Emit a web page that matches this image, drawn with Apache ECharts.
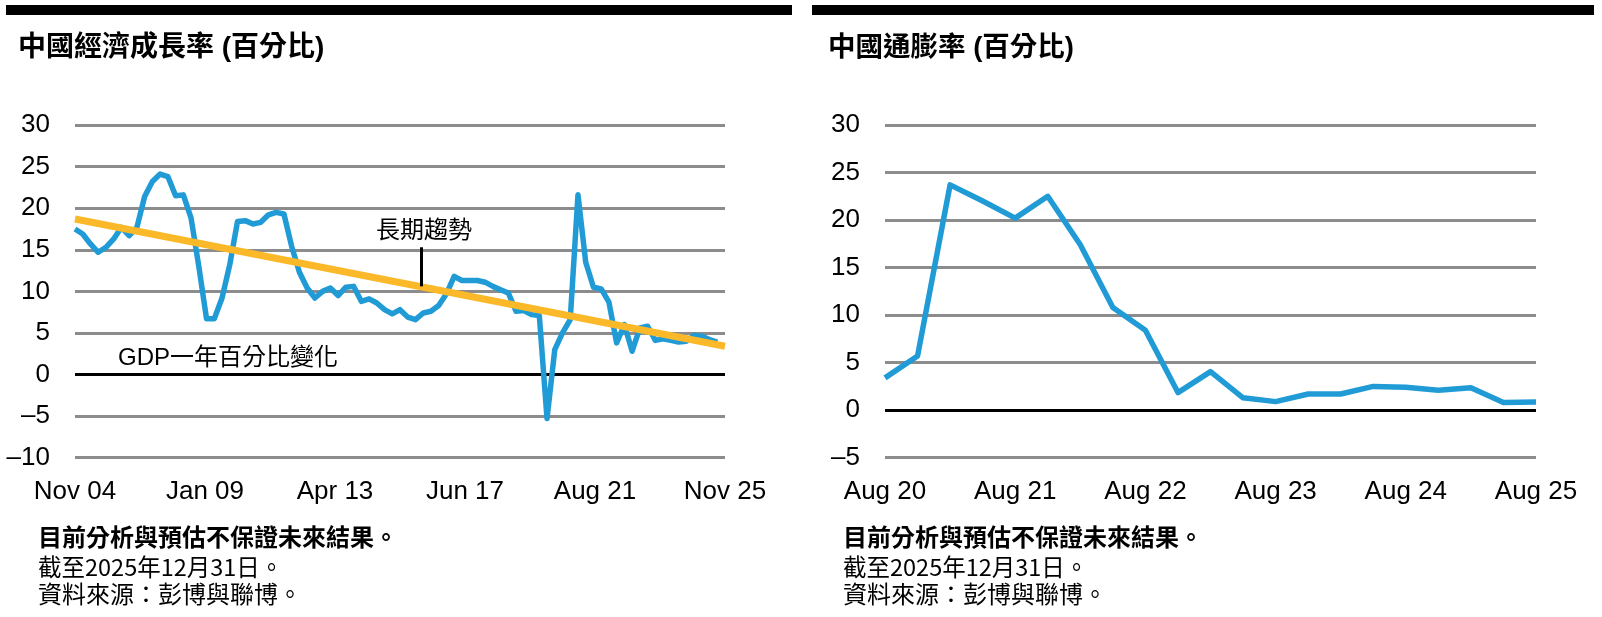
<!DOCTYPE html>
<html><head><meta charset="utf-8">
<script src="https://cdn.jsdelivr.net/npm/echarts@6/dist/echarts.min.js"></script>
<style>html,body{margin:0;padding:0;background:#fff}#c{width:1602px;height:617px}</style>
</head><body><div id="c"></div>
<script>
// ---- Left chart: China nominal GDP growth (quarterly, Q4 2004 .. Q3 2025) ----
const gdpTickLabels = ['Nov 04', 'Jan 09', 'Apr 13', 'Jun 17', 'Aug 21', 'Nov 25'];
const gdpGrowth = [17.5,16.9,15.7,14.7,15.3,16.3,17.7,16.7,17.7,21.4,
  23.2,24.1,23.8,21.5,21.6,18.8,13.0,6.7,6.7,9.2,
  13.2,18.4,18.5,18.1,18.3,19.2,19.5,19.3,15.4,12.3,
  10.4,9.2,10.0,10.4,9.5,10.5,10.6,8.8,9.1,8.6,
  7.8,7.3,7.8,6.9,6.6,7.4,7.6,8.3,9.7,11.8,
  11.3,11.3,11.3,11.1,10.6,10.2,9.8,7.6,7.7,7.2,
  7.1,-5.3,3.0,5.0,6.6,21.6,13.5,10.5,10.3,8.7,
  3.8,6.0,2.8,5.6,5.8,4.1,4.3,4.1,3.9,4.0,
  4.7,4.6,4.2,3.9];
const gdpTrendStart = 18.7;   // value at axis start
const gdpTrendEnd = 3.4;      // value at axis end
const gdpSpan = 84;           // quarters from Nov 04 to Nov 25
const gdpYTicks = [-10, 30, 5];

// ---- Right chart: China inflation (quarterly, Aug 20 .. Aug 25) ----
const cpiTickLabels = ['Aug 20', 'Aug 21', 'Aug 22', 'Aug 23', 'Aug 24', 'Aug 25'];
const cpiInflation = [3.4,5.7,23.7,22.0,20.2,22.5,17.4,10.8,8.4,1.85,
  4.05,1.3,0.9,1.7,1.7,2.5,2.4,2.1,2.35,0.8,0.85];
const cpiYTicks = [-5, 30, 5];

const BLUE = '#219bd6', ORANGE = '#fbb829', GRID = '#8c8c8c';
const latin = '"Liberation Sans", Arial, sans-serif';
const cjk = '"Liberation Sans", "Noto Sans CJK TC", sans-serif';
const cjkOnly = '"Noto Sans CJK TC", sans-serif';

function yLabel(v) { return v < 0 ? '\u2013' + Math.abs(v) : String(v); }
function splitColors(min, max, step) {
  const c = [];
  for (let v = min; v <= max; v += step) c.push(v === 0 ? '#000' : GRID);
  return c;
}

const chart = echarts.init(document.getElementById('c'), null, {renderer: 'canvas'});
const gdpStep = gdpSpan / (gdpTickLabels.length - 1);
const cpiStep = (cpiInflation.length - 1) / (cpiTickLabels.length - 1);

const xCommon = {
  type: 'value', axisLine: {show: false}, axisTick: {show: false}, splitLine: {show: false}
};
const yCommon = {
  type: 'value', axisLine: {show: false}, axisTick: {show: false},
  axisLabel: {formatter: yLabel, fontFamily: latin, fontSize: 26, color: '#000', margin: 25}
};
const xLab = {fontFamily: latin, fontSize: 26, color: '#000', margin: 21};

chart.setOption({
  animation: false,
  grid: [
    {left: 75, width: 650, top: 125, height: 332.7},
    {left: 885, width: 651, top: 125, height: 332.7}
  ],
  xAxis: [
    Object.assign({}, xCommon, {gridIndex: 0, min: 0, max: gdpSpan, interval: gdpStep,
      axisLabel: Object.assign({formatter: v => gdpTickLabels[Math.round(v / gdpStep)]}, xLab)}),
    Object.assign({}, xCommon, {gridIndex: 1, min: 0, max: cpiInflation.length - 1, interval: cpiStep,
      axisLabel: Object.assign({formatter: v => cpiTickLabels[Math.round(v / cpiStep)]}, xLab)})
  ],
  yAxis: [
    Object.assign({}, yCommon, {gridIndex: 0, min: gdpYTicks[0], max: gdpYTicks[1], interval: gdpYTicks[2],
      splitLine: {lineStyle: {color: splitColors(gdpYTicks[0], gdpYTicks[1], gdpYTicks[2]), width: 3}}}),
    Object.assign({}, yCommon, {gridIndex: 1, min: cpiYTicks[0], max: cpiYTicks[1], interval: cpiYTicks[2],
      splitLine: {lineStyle: {color: splitColors(cpiYTicks[0], cpiYTicks[1], cpiYTicks[2]), width: 3}}})
  ],
  series: [
    {type: 'line', xAxisIndex: 0, yAxisIndex: 0, z: 3, symbol: 'none',
      lineStyle: {color: BLUE, width: 5.5, join: 'round'},
      data: gdpGrowth.map((v, i) => [i, v])},
    {type: 'line', xAxisIndex: 0, yAxisIndex: 0, z: 4, symbol: 'none',
      lineStyle: {color: ORANGE, width: 7},
      data: [[0, gdpTrendStart], [gdpSpan, gdpTrendEnd]],
      markLine: {silent: true, symbol: 'none', label: {show: false},
        lineStyle: {color: '#000', width: 3, type: 'solid'},
        data: [[{coord: [44.8, 10.6]}, {coord: [44.8, 15.3]}]]}},
    {type: 'line', xAxisIndex: 1, yAxisIndex: 1, z: 3, symbol: 'none',
      lineStyle: {color: BLUE, width: 5.5, join: 'round'},
      data: cpiInflation.map((v, i) => [i, v])}
  ],
  graphic: [
    {type: 'rect', shape: {x: 6, y: 5, width: 786, height: 10}, style: {fill: '#000'}},
    {type: 'rect', shape: {x: 812, y: 5, width: 782, height: 10}, style: {fill: '#000'}},
    {type: 'text', x: 18, y: 48, style: {text: '中國經濟成長率 (百分比)', fontFamily: cjk, fontSize: 28, fontWeight: 'bold', fill: '#000', verticalAlign: 'middle'}},
    {type: 'text', x: 828, y: 48, style: {text: '中國通膨率 (百分比)', fontFamily: cjk, fontSize: 27.5, fontWeight: 'bold', fill: '#000', verticalAlign: 'middle'}},
    {type: 'text', x: 376, y: 231, style: {text: '長期趨勢', fontFamily: cjk, fontSize: 24, fill: '#000', verticalAlign: 'middle'}},
    {type: 'text', x: 118, y: 358, style: {text: 'GDP一年百分比變化', fontFamily: cjk, fontSize: 24, fill: '#000', verticalAlign: 'middle'}},
    {type: 'text', x: 38, y: 539, style: {text: '目前分析與預估不保證未來結果。', fontFamily: cjk, fontSize: 24, fontWeight: 'bold', fill: '#000', verticalAlign: 'middle'}},
    {type: 'text', x: 38, y: 567, style: {text: '截至2025年12月31日。', fontFamily: cjkOnly, fontSize: 23.5, fill: '#000', verticalAlign: 'middle'}},
    {type: 'text', x: 38, y: 594, style: {text: '資料來源：彭博與聯博。', fontFamily: cjkOnly, fontSize: 24, fill: '#000', verticalAlign: 'middle'}},
    {type: 'text', x: 843, y: 539, style: {text: '目前分析與預估不保證未來結果。', fontFamily: cjk, fontSize: 24, fontWeight: 'bold', fill: '#000', verticalAlign: 'middle'}},
    {type: 'text', x: 843, y: 567, style: {text: '截至2025年12月31日。', fontFamily: cjkOnly, fontSize: 23.5, fill: '#000', verticalAlign: 'middle'}},
    {type: 'text', x: 843, y: 594, style: {text: '資料來源：彭博與聯博。', fontFamily: cjkOnly, fontSize: 24, fill: '#000', verticalAlign: 'middle'}}
  ]
});
</script></body></html>
